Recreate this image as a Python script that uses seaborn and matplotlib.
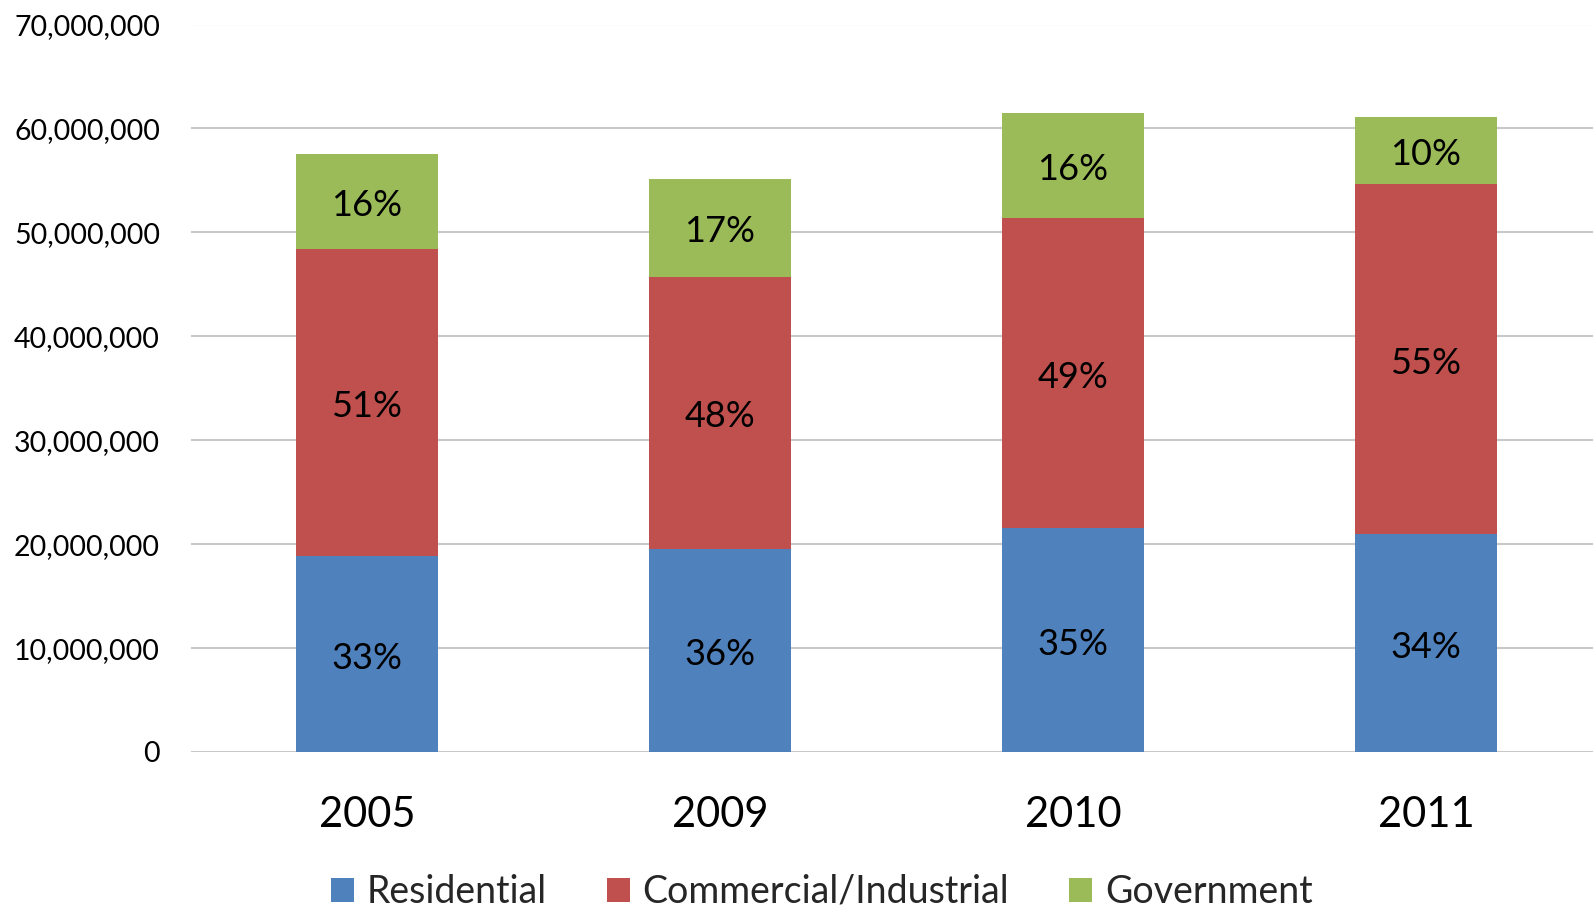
import matplotlib
matplotlib.use("Agg")
import matplotlib.pyplot as plt
import matplotlib.patches as mpatches
import matplotlib.transforms as mtransforms
from matplotlib.ticker import FuncFormatter
import seaborn as sns
import pandas as pd
import numpy as np

years = ["2005", "2009", "2010", "2011"]
residential = [18.83e6, 19.54e6, 21.53e6, 20.98e6]
commercial = [29.57e6, 26.21e6, 29.84e6, 33.69e6]
government = [9.15e6, 9.40e6, 10.10e6, 6.41e6]
res_labels = ["33%", "36%", "35%", "34%"]
com_labels = ["51%", "48%", "49%", "55%"]
gov_labels = ["16%", "17%", "16%", "10%"]
series_names = ["Residential", "Commercial/Industrial", "Government"]
colors = ["#4F81BD", "#C0504D", "#9BBB59"]

sns.set_theme(style="white")
FONT = "Lato"
plt.rcParams["font.family"] = [FONT, "DejaVu Sans"]

res = np.array(residential)
com = np.array(commercial)
gov = np.array(government)
cum1 = res
cum2 = res + com
cum3 = res + com + gov

df = pd.DataFrame({
    "Year": years,
    "Residential": cum1,
    "Commercial/Industrial": cum2,
    "Government": cum3,
})

fig = plt.figure(figsize=(15.93, 9.11), dpi=100)
ax = fig.add_axes([190.5 / 1593, 1 - 752 / 911, 1 - 190.5 / 1593, (752 - 24.5) / 911])

for name, col in zip(["Government", "Commercial/Industrial", "Residential"],
                     [colors[2], colors[1], colors[0]]):
    sns.barplot(data=df, x="Year", y=name, color=col, width=0.4,
                saturation=1, ax=ax, zorder=3, linewidth=0)

ax.set_ylim(0, 70e6)
ax.set_xlim(-0.5, 3.473)
ax.set_yticks(np.arange(0, 70e6 + 1, 10e6))
ax.yaxis.set_major_formatter(FuncFormatter(lambda v, p: f"{int(v):,}"))
ax.grid(axis="y", color="#c8c8c8", linewidth=1.5, zorder=0)
ax.set_axisbelow(True)
for s in ax.spines.values():
    s.set_visible(False)
ax.set_xlabel("")
ax.set_ylabel("")
ax.tick_params(axis="y", length=0, pad=22, labelsize=20.5, labelcolor="black")
ax.tick_params(axis="x", length=0, pad=32, labelsize=30, labelcolor="black")

offset = mtransforms.offset_copy(ax.transData, fig=fig, x=0, y=-3, units="points")
bottoms = [np.zeros(4), cum1, cum2]
heights = [res, com, gov]
labels = [res_labels, com_labels, gov_labels]
for b, h, labs in zip(bottoms, heights, labels):
    for i in range(4):
        ax.text(i, b[i] + h[i] / 2, labs[i], ha="center", va="center",
                fontsize=26, color="black", zorder=5, transform=offset)

handles = [mpatches.Patch(facecolor=c, edgecolor="none", label=n)
           for n, c in zip(series_names, colors)]
fig.legend(handles=handles, loc="center", bbox_to_anchor=(822 / 1593, 1 - 892 / 911),
           ncol=3, frameon=False, fontsize=27, handlelength=0.6, handleheight=0.6,
           handletextpad=0.35, columnspacing=1.6)

fig.savefig("out.png", dpi=100)
